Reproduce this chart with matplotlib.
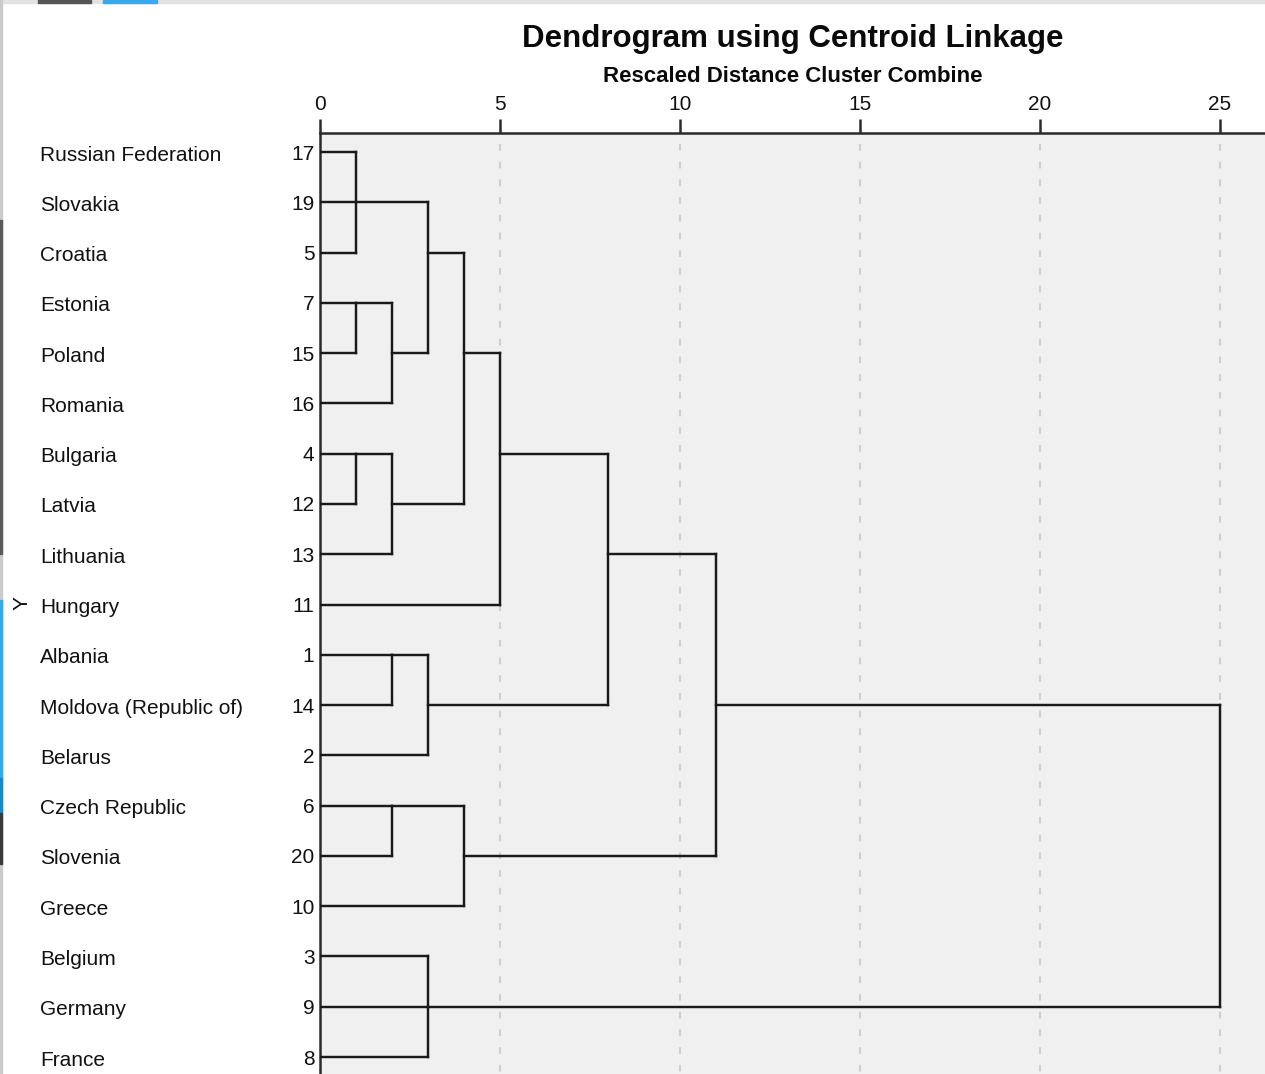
import matplotlib
matplotlib.use("Agg")
import matplotlib.pyplot as plt
from matplotlib import transforms
from matplotlib.patches import Rectangle

plt.rcParams["font.family"] = ["Liberation Sans", "DejaVu Sans"]

# leaf order (top to bottom) with case numbers
countries = ["Russian Federation", "Slovakia", "Croatia", "Estonia", "Poland",
             "Romania", "Bulgaria", "Latvia", "Lithuania", "Hungary", "Albania",
             "Moldova (Republic of)", "Belarus", "Czech Republic", "Slovenia",
             "Greece", "Belgium", "Germany", "France"]
cases = [17, 19, 5, 7, 15, 16, 4, 12, 13, 11, 1, 14, 2, 6, 20, 10, 3, 9, 8]

# agglomeration schedule: (cluster kept, cluster joined, rescaled distance)
schedule = [
    (5, 17, 1), (5, 19, 1), (7, 15, 1), (4, 12, 1),
    (1, 14, 2), (6, 20, 2), (7, 16, 2), (4, 13, 2),
    (5, 7, 3), (1, 2, 3), (3, 8, 3), (3, 9, 3),
    (4, 5, 4), (6, 10, 4), (4, 11, 5),
    (1, 4, 8), (1, 6, 11), (1, 3, 25),
]
x_ticks = [0, 5, 10, 15, 20, 25]

W, H = 1265, 1074
PX_PER_UNIT = 36.0
ROW_PX = 50.28
ROW0_PX = 152
AX_TOP_PX = 133
AX_LEFT_PX = 320
LINE = "#1a1a1a"
LW = 1.75

fig = plt.figure(figsize=(W / 100, H / 100), dpi=100)
ax = fig.add_axes([AX_LEFT_PX / W, 0, (W - AX_LEFT_PX) / W, 1 - AX_TOP_PX / H])
ax.set_facecolor("#f0f0f0")

y_top = -(ROW0_PX - AX_TOP_PX) / ROW_PX
y_bot = (H - ROW0_PX) / ROW_PX
ax.set_xlim(0, (W - AX_LEFT_PX) / PX_PER_UNIT)
ax.set_ylim(y_bot, y_top)

# dashed reference lines
for xv in x_ticks[1:]:
    ax.plot([xv, xv], [y_top, y_bot], color="#cfcfcf", lw=1.5,
            ls=(3.2, (3.2, 5.3)), zorder=1)

# walk the schedule: each cluster sits on a leaf row, floor of its children's midpoint
pos = {c: (i, 0.0) for i, c in enumerate(cases)}
for keep, join, d in schedule:
    ra, da = pos[keep]
    rb, db = pos[join]
    ax.plot([da, d], [ra, ra], color=LINE, lw=LW, solid_capstyle="projecting", zorder=3)
    ax.plot([db, d], [rb, rb], color=LINE, lw=LW, solid_capstyle="projecting", zorder=3)
    ax.plot([d, d], [ra, rb], color=LINE, lw=LW, solid_capstyle="projecting", zorder=3)
    pos[keep] = ((ra + rb) // 2, d)
    del pos[join]

# axes frame: top scale and left edge only
for side in ("right", "bottom"):
    ax.spines[side].set_visible(False)
for side in ("top", "left"):
    ax.spines[side].set_linewidth(1.8)
    ax.spines[side].set_color("#2a2a2a")

ax.xaxis.tick_top()
ax.set_xticks(x_ticks)
ax.set_xticklabels([str(t) for t in x_ticks])
ax.tick_params(axis="x", which="both", direction="out", length=10, width=1.8,
               color="#2a2a2a", pad=4, labelsize=15, labelcolor="#111111")

ax.set_yticks(range(len(cases)))
ax.set_yticklabels([str(c) for c in cases])
ax.tick_params(axis="y", length=0, pad=4, labelsize=15, labelcolor="#111111")

ax.set_ylabel("Y", fontsize=15, color="#111111")
ax.yaxis.set_label_coords((32 - AX_LEFT_PX) / (W - AX_LEFT_PX), 0.5)

lab_tr = transforms.blended_transform_factory(fig.transFigure, ax.transData)
for i, name in enumerate(countries):
    ax.text(40 / W, i + 0.06, name, transform=lab_tr, ha="left", va="center",
            fontsize=15, color="#111111", clip_on=False)

cx = (AX_LEFT_PX + W) / 2 / W
fig.text(cx, 1 - 39 / H, "Dendrogram using Centroid Linkage", ha="center",
         va="center", fontsize=22.5, fontweight="bold", color="#0a0a0a")
fig.text(cx, 1 - 76 / H, "Rescaled Distance Cluster Combine", ha="center",
         va="center", fontsize=16, fontweight="bold", color="#0a0a0a")

# window edge strips
def strip(x, y, w, h, color):
    fig.patches.append(Rectangle((x / W, 1 - (y + h) / H), w / W, h / H,
                                 transform=fig.transFigure, color=color, zorder=10))

strip(0, 0, W, 3, "#e2e2e2")
strip(38, 0, 53, 3, "#555555")
strip(103, 0, 54, 3, "#39a9ee")
strip(0, 0, 2, H, "#cbcbcb")
strip(0, 220, 2, 334, "#5a5a5a")
strip(0, 600, 2, 178, "#36a8ec")
strip(0, 778, 2, 35, "#1c88c8")
strip(0, 813, 2, 51, "#3a3a3a")

fig.savefig("out.png", dpi=100, facecolor="white")
